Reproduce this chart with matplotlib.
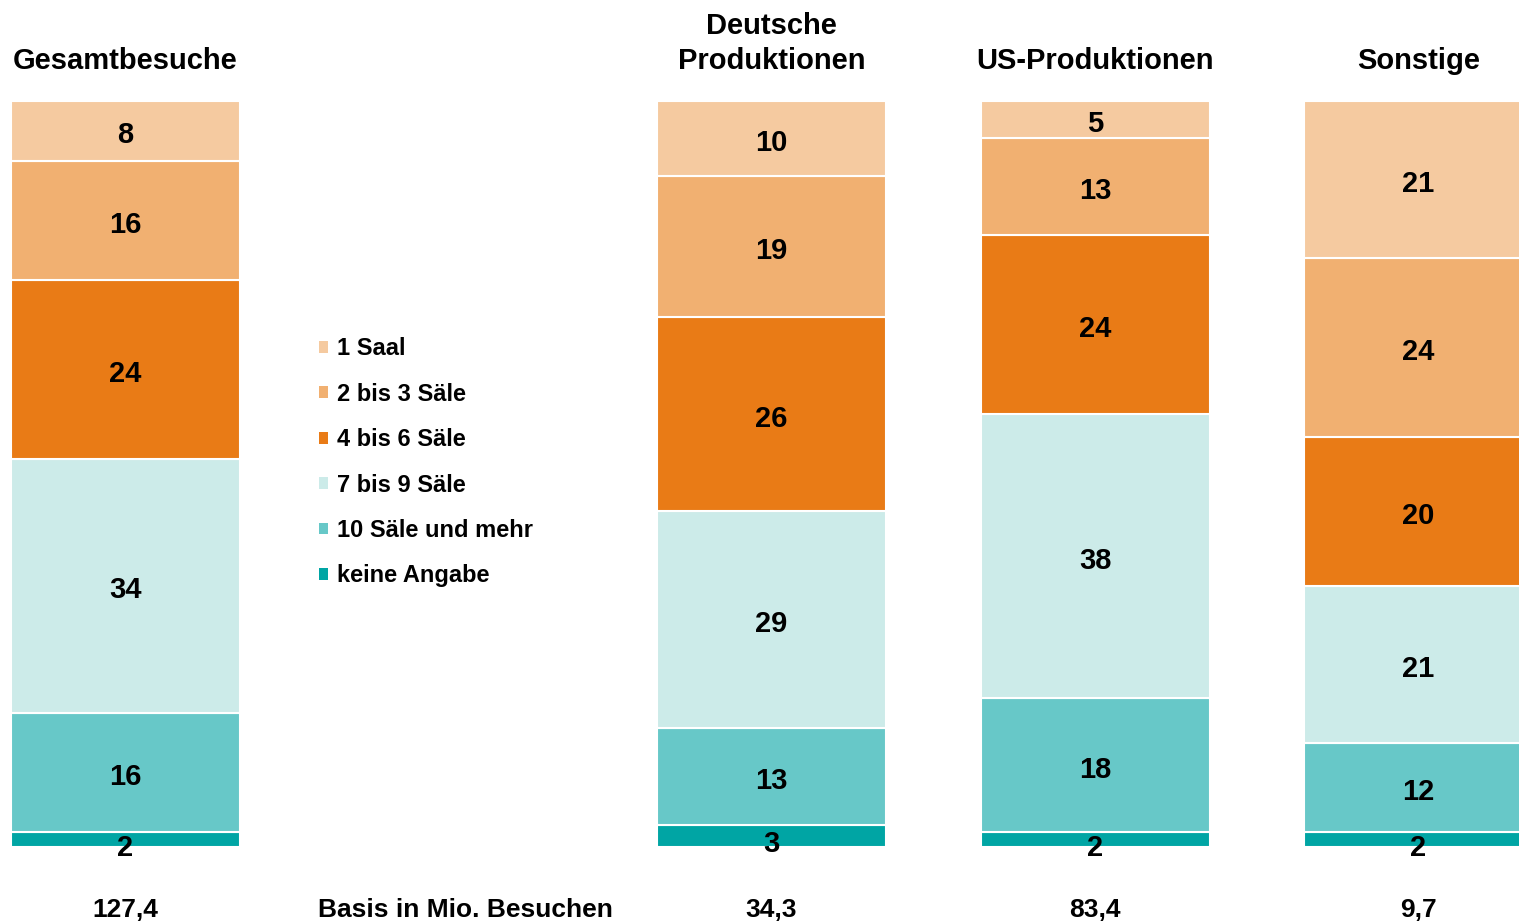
import matplotlib.pyplot as plt
import matplotlib.transforms as mtransforms
from matplotlib.patches import Patch

plt.rcParams['font.family'] = ['Liberation Sans', 'DejaVu Sans']
plt.rcParams['font.weight'] = 'bold'

# data
groups = ['Gesamtbesuche', 'Deutsche\nProduktionen', 'US-Produktionen', 'Sonstige']
basis = ['127,4', '34,3', '83,4', '9,7']
categories = ['1 Saal', '2 bis 3 Säle', '4 bis 6 Säle', '7 bis 9 Säle',
              '10 Säle und mehr', 'keine Angabe']
saal_1 = [8, 10, 5, 21]
saal_2_3 = [16, 19, 13, 24]
saal_4_6 = [24, 26, 24, 20]
saal_7_9 = [34, 29, 38, 21]
saal_10 = [16, 13, 18, 12]
keine = [2, 3, 2, 2]
series = [saal_1, saal_2_3, saal_4_6, saal_7_9, saal_10, keine]

colors = ['#F5CAA0', '#F1B071', '#E97B16', '#CCEBE9', '#67C8C8', '#00A5A4']

# bar positions (bar width = 1 unit)
pos = [0, 2.821, 4.234, 5.645]

fig = plt.figure(figsize=(15.19, 9.22), dpi=100)
ax = fig.add_axes([0, 0.0813, 1, 0.8092])
ax.set_xlim(-0.548, 6.085)
ax.set_ylim(0, 100)
ax.axis('off')

# stack from the bottom: keine Angabe first, 1 Saal on top
bottom = [0, 0, 0, 0]
for vals, col in reversed(list(zip(series, colors))):
    ax.bar(pos, vals, width=1, bottom=bottom, color=col,
           edgecolor='white', linewidth=1.5)
    for x, v, b in zip(pos, vals, bottom):
        extra = -4 if v <= 3 else -1.5
        ax.annotate(str(v), (x, b + v / 2), xytext=(0, -0.36 * 21 + extra),
                    textcoords='offset points', ha='center', va='baseline',
                    fontsize=21, fontweight='bold')
    bottom = [b + v for b, v in zip(bottom, vals)]

handles = [Patch(facecolor=c, edgecolor='none') for c in colors]
fig.legend(handles, categories, loc='upper left', bbox_to_anchor=(0.2035, 0.6445),
           frameon=False, fontsize=17, handlelength=0.4, handleheight=0.4,
           handletextpad=0.4, labelspacing=0.95, borderaxespad=0)

# column titles
title_tr = mtransforms.blended_transform_factory(ax.transData, fig.transFigure)
for x, g in zip(pos, groups):
    ax.text(x, 0.9187, g, transform=title_tr, ha='center', va='bottom',
            fontsize=21, fontweight='bold', linespacing=1.3)

# basis values
for x, b in zip(pos, basis):
    ax.text(x, 0.005, b, transform=title_tr, ha='center', va='baseline',
            fontsize=19, fontweight='bold')
fig.text(318 / 1519, 0.005, 'Basis in Mio. Besuchen', ha='left', va='baseline',
         fontsize=19, fontweight='bold')

fig.savefig('out.png', dpi=100)
